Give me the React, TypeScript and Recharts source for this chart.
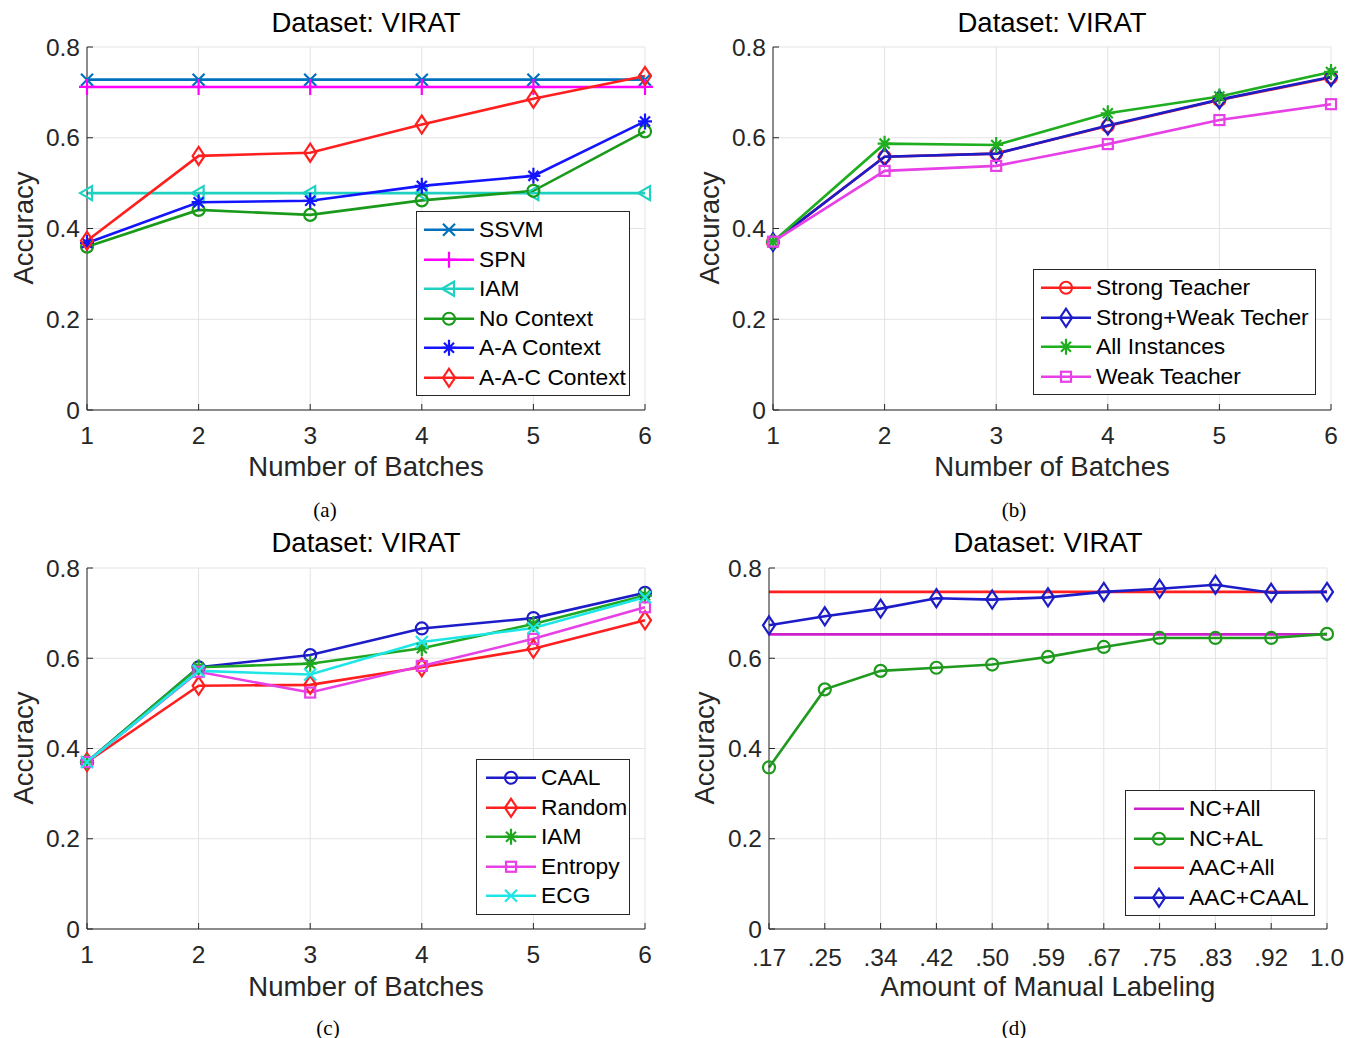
import React from "react";
import { CartesianGrid, Line, LineChart, XAxis, YAxis } from "recharts";

// x categories
const batches = ["1", "2", "3", "4", "5", "6"];
const labeling = [".17", ".25", ".34", ".42", ".50", ".59", ".67", ".75", ".83", ".92", "1.0"];
const yTicks = [0, 0.2, 0.4, 0.6, 0.8];

// (a) context models
const ssvm = [0.728, 0.728, 0.728, 0.728, 0.728, 0.728];
const spn = [0.712, 0.712, 0.712, 0.712, 0.712, 0.712];
const iamA = [0.478, 0.478, 0.478, 0.478, 0.478, 0.478];
const noContext = [0.36, 0.441, 0.43, 0.462, 0.483, 0.614];
const aaContext = [0.368, 0.458, 0.461, 0.494, 0.516, 0.636];
const aacContext = [0.373, 0.56, 0.567, 0.629, 0.686, 0.736];

// (b) teachers
const strongTeacher = [0.37, 0.558, 0.565, 0.626, 0.683, 0.733];
const strongWeak = [0.37, 0.558, 0.565, 0.627, 0.684, 0.734];
const allInstances = [0.371, 0.587, 0.584, 0.654, 0.691, 0.745];
const weakTeacher = [0.371, 0.527, 0.538, 0.586, 0.639, 0.674];

// (c) selection strategies
const caal = [0.37, 0.58, 0.607, 0.666, 0.689, 0.745];
const random = [0.37, 0.539, 0.541, 0.58, 0.621, 0.684];
const iamC = [0.37, 0.58, 0.588, 0.622, 0.676, 0.739];
const entropy = [0.37, 0.57, 0.524, 0.583, 0.643, 0.713];
const ecg = [0.37, 0.572, 0.564, 0.636, 0.667, 0.735];

// (d) manual labeling
const ncAll = [0.653, 0.653, 0.653, 0.653, 0.653, 0.653, 0.653, 0.653, 0.653, 0.653, 0.653];
const ncAl = [0.358, 0.531, 0.572, 0.579, 0.586, 0.603, 0.625, 0.645, 0.645, 0.645, 0.654];
const aacAll = [0.747, 0.747, 0.747, 0.747, 0.747, 0.747, 0.747, 0.747, 0.747, 0.747, 0.747];
const aacCaal = [0.673, 0.693, 0.71, 0.733, 0.73, 0.735, 0.747, 0.754, 0.763, 0.745, 0.747];

type MarkerKind = "x" | "plus" | "tri" | "circle" | "star" | "diamond" | "square" | "none";
type Series = { key: string; name: string; color: string; marker: MarkerKind };

const FONT = "'Liberation Sans', Arial, Helvetica, sans-serif";
const AXIS = "#262626";

function Marker({ kind, x, y, color }: { kind: MarkerKind; x: number; y: number; color: string }) {
  const p = { stroke: color, strokeWidth: 2.2, fill: "none" };
  switch (kind) {
    case "x":
      return <path d={`M${x - 6},${y - 6}L${x + 6},${y + 6}M${x - 6},${y + 6}L${x + 6},${y - 6}`} {...p} />;
    case "plus":
      return <path d={`M${x - 8},${y}L${x + 8},${y}M${x},${y - 8}L${x},${y + 8}`} {...p} />;
    case "tri":
      return <path d={`M${x - 7},${y}L${x + 5},${y - 7}L${x + 5},${y + 7}Z`} {...p} />;
    case "circle":
      return <circle cx={x} cy={y} r={6} {...p} />;
    case "star":
      return (
        <path
          d={`M${x - 7},${y}L${x + 7},${y}M${x},${y - 8}L${x},${y + 8}M${x - 5},${y - 5}L${x + 5},${y + 5}M${x - 5},${y + 5}L${x + 5},${y - 5}`}
          {...p}
        />
      );
    case "diamond":
      return <path d={`M${x},${y - 9}L${x + 6},${y}L${x},${y + 9}L${x - 6},${y}Z`} {...p} />;
    case "square":
      return <rect x={x - 5} y={y - 5} width={10} height={10} {...p} />;
    default:
      return null;
  }
}

const Y_W = 60;
const X_H = 40;

function Panel(props: {
  left: number;
  top: number;
  plot: [number, number, number, number]; // x0, y0, x1, y1 in page coords
  cats: string[];
  series: Series[];
  values: number[][];
  xTickGap?: number;
}) {
  const { left, top, plot, cats, series, values, xTickGap = 23 } = props;
  const width = 673;
  const height = 519;
  const data = cats.map((c, i) => {
    const row: Record<string, string | number> = { cat: c };
    series.forEach((s, j) => {
      row[s.key] = values[j][i];
    });
    return row;
  });
  const margin = {
    left: plot[0] - left - Y_W,
    top: plot[1] - top,
    right: left + width - plot[2],
    bottom: top + height - plot[3] - X_H,
  };
  return (
    <div style={{ position: "absolute", left, top }}>
      <LineChart width={width} height={height} data={data} margin={margin}>
        <CartesianGrid stroke="#e3e3e3" strokeWidth={1} />
        <XAxis
          dataKey="cat"
          height={X_H}
          interval={0}
          stroke={AXIS}
          tickSize={-6}
          tickMargin={xTickGap}
          tick={{ fill: AXIS, fontSize: 24.5, fontFamily: FONT }}
        />
        <YAxis
          width={Y_W}
          domain={[0, 0.8]}
          ticks={yTicks}
          type="number"
          stroke={AXIS}
          tickSize={-6}
          tickMargin={13}
          tickFormatter={(v: number) => (v === 0 ? "0" : v.toFixed(1))}
          tick={{ fill: AXIS, fontSize: 24.5, fontFamily: FONT }}
        />
        {series.map((s) => (
          <Line
            key={s.key}
            dataKey={s.key}
            name={s.name}
            type="linear"
            stroke={s.color}
            strokeWidth={2.6}
            isAnimationActive={false}
            activeDot={false}
            dot={(d: any) => (
              <g key={`${s.key}-${d.index}`}>
                <Marker kind={s.marker} x={d.cx} y={d.cy} color={s.color} />
              </g>
            )}
          />
        ))}
      </LineChart>
    </div>
  );
}

function LegendBox(props: {
  left: number;
  top: number;
  width: number;
  lineOff: number;
  series: Series[];
}) {
  const { left, top, width, lineOff, series } = props;
  const rowH = 29.5;
  return (
    <div
      style={{
        position: "absolute",
        left,
        top,
        width,
        border: `1.5px solid ${AXIS}`,
        background: "#fff",
        padding: "3px 0",
        boxSizing: "border-box",
      }}
    >
      {series.map((s) => (
        <div key={s.key} style={{ display: "flex", alignItems: "center", height: rowH }}>
          <svg width={lineOff + 55} height={rowH} style={{ flex: "none" }}>
            <line x1={lineOff} x2={lineOff + 50} y1={rowH / 2} y2={rowH / 2} stroke={s.color} strokeWidth={2.6} />
            <Marker kind={s.marker} x={lineOff + 25} y={rowH / 2} color={s.color} />
          </svg>
          <span style={{ fontFamily: FONT, fontSize: 22.8, color: "#000", whiteSpace: "nowrap", lineHeight: 1 }}>
            {s.name}
          </span>
        </div>
      ))}
    </div>
  );
}

function Txt(props: { x: number; y: number; size: number; text: string; rotate?: boolean; serif?: boolean; color?: string }) {
  const { x, y, size, text, rotate, serif, color } = props;
  return (
    <div
      style={{
        position: "absolute",
        left: x,
        top: y,
        transform: `translate(-50%, -50%)${rotate ? " rotate(-90deg)" : ""}`,
        fontFamily: serif ? "'Liberation Serif', 'Times New Roman', serif" : FONT,
        fontSize: size,
        lineHeight: 1,
        whiteSpace: "nowrap",
        color: color ?? "#000",
      }}
    >
      {text}
    </div>
  );
}

const seriesA: Series[] = [
  { key: "ssvm", name: "SSVM", color: "#0072BD", marker: "x" },
  { key: "spn", name: "SPN", color: "#ff00ff", marker: "plus" },
  { key: "iam", name: "IAM", color: "#1fd1c1", marker: "tri" },
  { key: "nc", name: "No Context", color: "#1a9a1a", marker: "circle" },
  { key: "aa", name: "A-A Context", color: "#1414ff", marker: "star" },
  { key: "aac", name: "A-A-C Context", color: "#ff1f1f", marker: "diamond" },
];
const seriesB: Series[] = [
  { key: "st", name: "Strong Teacher", color: "#ff1f1f", marker: "circle" },
  { key: "sw", name: "Strong+Weak Techer", color: "#1c1cc8", marker: "diamond" },
  { key: "all", name: "All Instances", color: "#1fae1f", marker: "star" },
  { key: "wt", name: "Weak Teacher", color: "#e640e6", marker: "square" },
];
const seriesC: Series[] = [
  { key: "caal", name: "CAAL", color: "#1c1cc8", marker: "circle" },
  { key: "rnd", name: "Random", color: "#ff1f1f", marker: "diamond" },
  { key: "iam", name: "IAM", color: "#1fa81f", marker: "star" },
  { key: "ent", name: "Entropy", color: "#e640e6", marker: "square" },
  { key: "ecg", name: "ECG", color: "#1fe6e6", marker: "x" },
];
const seriesD: Series[] = [
  { key: "ncall", name: "NC+All", color: "#cc1fcc", marker: "none" },
  { key: "ncal", name: "NC+AL", color: "#1f9a1f", marker: "circle" },
  { key: "aacall", name: "AAC+All", color: "#ff1f1f", marker: "none" },
  { key: "aaccaal", name: "AAC+CAAL", color: "#1c1cc8", marker: "diamond" },
];

export default function App() {
  return (
    <div
      style={{
        position: "absolute",
        left: 0,
        top: 0,
        width: 1346,
        height: 1038,
        background: "#fff",
        overflow: "hidden",
      }}
    >
      <Panel
        left={0}
        top={0}
        plot={[87, 47, 645, 410]}
        cats={batches}
        series={seriesA}
        values={[ssvm, spn, iamA, noContext, aaContext, aacContext]}
      />
      <Panel
        left={673}
        top={0}
        plot={[773, 47, 1331, 410]}
        cats={batches}
        series={seriesB}
        values={[strongTeacher, strongWeak, allInstances, weakTeacher]}
      />
      <Panel
        left={0}
        top={519}
        plot={[87, 568, 645, 929]}
        cats={batches}
        series={seriesC}
        values={[caal, random, iamC, entropy, ecg]}
      />
      <Panel
        left={673}
        top={519}
        plot={[769, 568, 1327, 929]}
        cats={labeling}
        series={seriesD}
        values={[ncAll, ncAl, aacAll, aacCaal]}
        xTickGap={26}
      />

      <LegendBox left={416} top={211} width={214} lineOff={7} series={seriesA} />
      <LegendBox left={1033} top={269} width={283} lineOff={7} series={seriesB} />
      <LegendBox left={476} top={759} width={154} lineOff={9} series={seriesC} />
      <LegendBox left={1125} top={790} width={190} lineOff={8} series={seriesD} />

      <Txt x={366} y={23} size={27.5} text="Dataset: VIRAT" />
      <Txt x={1052} y={23} size={27.5} text="Dataset: VIRAT" />
      <Txt x={366} y={543} size={27.5} text="Dataset: VIRAT" />
      <Txt x={1048} y={543} size={27.5} text="Dataset: VIRAT" />

      <Txt x={366} y={467} size={27.5} text="Number of Batches" color={AXIS} />
      <Txt x={1052} y={467} size={27.5} text="Number of Batches" color={AXIS} />
      <Txt x={366} y={987} size={27.5} text="Number of Batches" color={AXIS} />
      <Txt x={1048} y={987} size={27.5} text="Amount of Manual Labeling" color={AXIS} />

      <Txt x={24} y={228} size={27.5} text="Accuracy" rotate color={AXIS} />
      <Txt x={710} y={228} size={27.5} text="Accuracy" rotate color={AXIS} />
      <Txt x={24} y={748} size={27.5} text="Accuracy" rotate color={AXIS} />
      <Txt x={705} y={748} size={27.5} text="Accuracy" rotate color={AXIS} />

      <Txt x={325} y={510} size={21} text="(a)" serif />
      <Txt x={1014} y={510} size={21} text="(b)" serif />
      <Txt x={328} y={1028} size={21} text="(c)" serif />
      <Txt x={1014} y={1028} size={21} text="(d)" serif />
    </div>
  );
}
